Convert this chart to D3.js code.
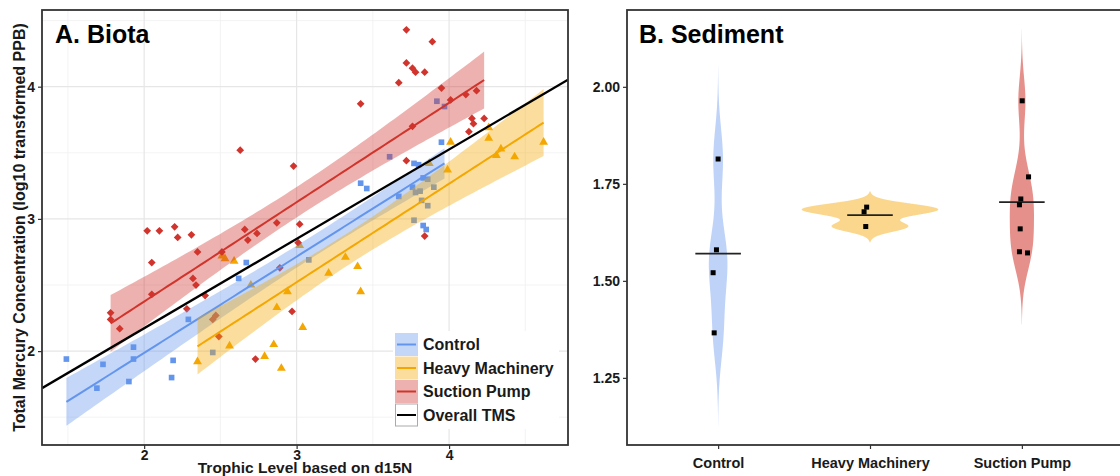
<!DOCTYPE html>
<html><head><meta charset="utf-8">
<script src="https://cdn.jsdelivr.net/npm/d3@7"></script>
<style>
body{margin:0;background:#fff;}
svg{display:block;font-family:"Liberation Sans",Arial,Helvetica,sans-serif;}
</style>
</head><body>
<svg id="c" width="1120" height="476"></svg>
<script>
// ---------------- DATA ----------------
const groups = ["Control", "Heavy Machinery", "Suction Pump"];
const groupColors = ["#6495ED", "#F4A700", "#D0342C"];

// Panel A: trophic level (x) vs log10 total mercury (y)
const ctrlTL = [1.49,1.69,1.73,1.90,1.93,1.93,2.18,2.19,2.29,2.45,2.62,2.67,3.08,3.61,3.92,3.97,3.42,3.46,3.67,3.76,3.77,3.80,3.83,3.86,3.78,3.81,3.82,3.90,3.86,3.77,3.83,3.85,3.95];
const ctrlHg = [1.94,1.72,1.90,1.77,1.94,2.03,1.80,1.93,2.24,1.99,2.55,2.67,2.69,3.47,3.89,3.85,3.27,3.23,3.17,3.24,3.42,3.41,3.31,3.30,3.20,3.21,3.14,3.24,3.10,2.99,2.95,2.92,3.58];

const heavyTL = [2.35,2.51,2.53,2.59,2.56,2.70,2.79,2.85,2.87,2.90,2.94,3.02,3.04,3.21,3.32,3.40,3.42,3.87,3.99,4.01,4.26,4.26,4.31,4.34,4.43,4.62];
const heavyHg = [1.92,2.72,2.70,2.68,2.04,2.50,1.96,2.05,2.33,1.87,2.45,2.80,2.18,2.59,2.71,2.64,2.45,3.42,3.37,3.58,3.69,3.61,3.48,3.53,3.47,3.58];

const suctTL = [1.78,1.78,1.84,2.02,2.10,2.05,2.05,2.20,2.22,2.28,2.31,2.32,2.34,2.35,2.40,2.45,2.47,2.49,2.51,2.63,2.66,2.68,2.74,2.73,2.87,2.89,2.97,2.98,3.02,3.01,3.42,3.67,3.72,3.72,3.76,3.78,3.84,3.89,3.76,3.72,3.84,3.95,4.01,4.11,4.18,4.15,4.16,4.13,4.23];
const suctHg = [2.29,2.24,2.17,2.91,2.91,2.43,2.67,2.94,2.86,2.32,2.88,2.55,2.50,2.75,2.42,2.24,2.27,2.11,2.75,3.52,2.92,2.84,2.89,1.94,2.97,2.63,2.30,3.40,2.96,2.82,3.87,4.03,4.43,4.18,4.14,4.11,4.11,4.34,3.70,3.44,2.87,3.99,3.90,3.94,3.97,3.76,3.72,3.66,3.76];

// Overall trophic magnification slope line
const tmsIntercept = 0.821;
const tmsSlope = 0.676;

const biotaXTicks = [2, 3, 4];
const biotaYTicks = [2, 3, 4];
const biotaXMinor = [1.5, 2.5, 3.5, 4.5];
const biotaYMinor = [1.5, 2.5, 3.5, 4.5];
const legendLabels = ["Control", "Heavy Machinery", "Suction Pump", "Overall TMS"];

// Panel B: sediment
const sedCats = ["Control", "Heavy Machinery", "Suction Pump"];
const sedControl = [1.814, 1.580, 1.521, 1.366];
const sedControlJit = [0.000, -0.011, -0.033, -0.026];
const sedHeavy = [1.690, 1.678, 1.640];
const sedHeavyJit = [-0.022, -0.039, -0.028];
const sedSuction = [1.964, 1.768, 1.711, 1.696, 1.634, 1.575, 1.572];
const sedSuctionJit = [0.002, 0.044, -0.007, -0.016, -0.011, -0.016, 0.037];
const sedYTicks = [1.25, 1.50, 1.75, 2.00];

// ---------------- HELPERS ----------------
function tq975(df) {
  const z = 1.959964;
  return z + (z*z*z + z) / (4*df) + (5*Math.pow(z,5) + 16*z*z*z + 3*z) / (96*df*df);
}
function lmFit(xs, ys) {
  const n = xs.length, mx = d3.mean(xs), my = d3.mean(ys);
  let sxx = 0, sxy = 0;
  for (let i = 0; i < n; i++) { sxx += (xs[i]-mx)**2; sxy += (xs[i]-mx)*(ys[i]-my); }
  const b = sxy / sxx, a = my - b*mx;
  let sse = 0;
  for (let i = 0; i < n; i++) sse += (ys[i] - a - b*xs[i])**2;
  const s2 = sse / (n-2), t = tq975(n-2);
  const [lo, hi] = d3.extent(xs);
  return d3.range(80).map(k => {
    const x = lo + (hi-lo)*k/79;
    const f = a + b*x;
    const se = Math.sqrt(s2*(1/n + (x-mx)**2/sxx));
    return {x, f, lo: f - t*se, hi: f + t*se};
  });
}
function nrd0(v) {
  const s = [...v].sort(d3.ascending);
  const sd = d3.deviation(s);
  const iqr = d3.quantile(s, 0.75) - d3.quantile(s, 0.25);
  const lo = Math.min(sd, iqr/1.34);
  return 0.9 * lo * Math.pow(s.length, -0.2);
}
function kde(v) {
  const bw = nrd0(v);
  const [mn, mx] = d3.extent(v);
  const from = mn - 3*bw, to = mx + 3*bw;
  return d3.range(512).map(k => {
    const y = from + (to-from)*k/511;
    const d = d3.sum(v, vi => Math.exp(-0.5*((y-vi)/bw)**2)) / (v.length*bw*Math.sqrt(2*Math.PI));
    return {y, d};
  });
}

const svg = d3.select("#c");
const FONT_COL = "#1a1a1a";

// ---------------- PANEL A ----------------
const A = {l: 42, r: 568, t: 10, b: 445};
const xA = d3.scaleLinear().domain([1.33, 4.78]).range([A.l, A.r]);
const yA = d3.scaleLinear().domain([1.29, 4.58]).range([A.b, A.t]);

svg.append("clipPath").attr("id", "clipA").append("rect")
  .attr("x", A.l).attr("y", A.t).attr("width", A.r-A.l).attr("height", A.b-A.t);

const gA = svg.append("g");
const grid = gA.append("g");
grid.selectAll(".vm").data(biotaXMinor).join("line")
  .attr("x1", d => xA(d)).attr("x2", d => xA(d)).attr("y1", A.t).attr("y2", A.b)
  .attr("stroke", "#F0F0F0").attr("stroke-width", 0.8);
grid.selectAll(".hm").data(biotaYMinor).join("line")
  .attr("y1", d => yA(d)).attr("y2", d => yA(d)).attr("x1", A.l).attr("x2", A.r)
  .attr("stroke", "#F0F0F0").attr("stroke-width", 0.8);
grid.selectAll(".vM").data(biotaXTicks).join("line")
  .attr("x1", d => xA(d)).attr("x2", d => xA(d)).attr("y1", A.t).attr("y2", A.b)
  .attr("stroke", "#E6E6E6").attr("stroke-width", 1.2);
grid.selectAll(".hM").data(biotaYTicks).join("line")
  .attr("y1", d => yA(d)).attr("y2", d => yA(d)).attr("x1", A.l).attr("x2", A.r)
  .attr("stroke", "#E6E6E6").attr("stroke-width", 1.2);

const plotA = gA.append("g").attr("clip-path", "url(#clipA)");

const series = [
  {x: ctrlTL, y: ctrlHg, sym: "square"},
  {x: heavyTL, y: heavyHg, sym: "triangle"},
  {x: suctTL, y: suctHg, sym: "diamond"}
];
const symGen = {
  square: d3.symbol().type(d3.symbolSquare).size(32),
  triangle: d3.symbol().type(d3.symbolTriangle).size(34),
  diamond: d3.symbol().type(d3.symbolSquare).size(30)
};
series.forEach((s, gi) => {
  plotA.append("g").selectAll("path").data(s.x.map((x, i) => [x, s.y[i]])).join("path")
    .attr("d", symGen[s.sym]())
    .attr("transform", d => `translate(${xA(d[0])},${yA(d[1])})` + (s.sym === "diamond" ? " rotate(45)" : ""))
    .attr("fill", groupColors[gi]);
});
series.forEach((s, gi) => {
  const fit = lmFit(s.x, s.y);
  plotA.append("path").datum(fit)
    .attr("d", d3.area().x(d => xA(d.x)).y0(d => yA(d.lo)).y1(d => yA(d.hi)))
    .attr("fill", groupColors[gi]).attr("fill-opacity", 0.38);
  plotA.append("path").datum(fit)
    .attr("d", d3.line().x(d => xA(d.x)).y(d => yA(d.f)))
    .attr("fill", "none").attr("stroke", groupColors[gi]).attr("stroke-width", 2);
});
const tmsX = xA.domain();
plotA.append("line")
  .attr("x1", xA(tmsX[0])).attr("y1", yA(tmsIntercept + tmsSlope*tmsX[0]))
  .attr("x2", xA(tmsX[1])).attr("y2", yA(tmsIntercept + tmsSlope*tmsX[1]))
  .attr("stroke", "#000").attr("stroke-width", 2.3);

// axes A
const axAx = gA.append("g").attr("transform", `translate(0,${A.b})`)
  .call(d3.axisBottom(xA).tickValues(biotaXTicks).tickSize(4).tickPadding(1).tickFormat(d3.format("d")));
const axAy = gA.append("g").attr("transform", `translate(${A.l},0)`)
  .call(d3.axisLeft(yA).tickValues(biotaYTicks).tickSize(4).tickPadding(3).tickFormat(d3.format("d")));
[axAx, axAy].forEach(ax => {
  ax.select(".domain").remove();
  ax.selectAll("line").attr("stroke", "#333").attr("stroke-width", 1.2);
  ax.selectAll("text").attr("fill", FONT_COL).style("font-size", "14px").style("font-weight", "bold")
    .style("font-family", '"Liberation Sans",Arial,sans-serif');
});
gA.append("rect").attr("x", A.l).attr("y", A.t).attr("width", A.r-A.l).attr("height", A.b-A.t)
  .attr("fill", "none").attr("stroke", "#333").attr("stroke-width", 1.8);

gA.append("text").attr("x", 55).attr("y", 43).text("A. Biota")
  .style("font-size", "25px").style("font-weight", "bold").attr("fill", "#000");
gA.append("text").attr("transform", `translate(25,${(A.t+A.b)/2}) rotate(-90)`)
  .attr("text-anchor", "middle").text("Total Mercury Concentration (log10 transformed PPB)")
  .style("font-size", "16px").style("font-weight", "bold").attr("fill", FONT_COL);
gA.append("text").attr("x", (A.l+A.r)/2).attr("y", 472.5).attr("text-anchor", "middle")
  .text("Trophic Level based on d15N")
  .style("font-size", "15.5px").style("font-weight", "bold").attr("fill", FONT_COL);

// legend
const leg = gA.append("g").attr("transform", "translate(393,331)");
leg.append("rect").attr("x", 0).attr("y", 0).attr("width", 166).attr("height", 98).attr("fill", "#fff");
legendLabels.forEach((lab, i) => {
  const gy = 2 + i*23.5;
  const row = leg.append("g").attr("transform", `translate(2,${gy})`);
  if (i < 3) {
    row.append("rect").attr("width", 23).attr("height", 23).attr("fill", groupColors[i]).attr("fill-opacity", 0.38);
    row.append("line").attr("x1", 2).attr("x2", 21).attr("y1", 11.5).attr("y2", 11.5)
      .attr("stroke", groupColors[i]).attr("stroke-width", 2);
  } else {
    row.append("rect").attr("x", 0.5).attr("y", 0.5).attr("width", 22).attr("height", 22)
      .attr("fill", "#fff").attr("stroke", "#aaa").attr("stroke-width", 1);
    row.append("line").attr("x1", 2).attr("x2", 21).attr("y1", 11.5).attr("y2", 11.5)
      .attr("stroke", "#000").attr("stroke-width", 2);
  }
  row.append("text").attr("x", 28).attr("y", 11.5).attr("dy", "0.36em").text(lab)
    .style("font-size", "16px").style("font-weight", "bold").attr("fill", FONT_COL);
});

// ---------------- PANEL B ----------------
const B = {l: 627, r: 1113, t: 10, b: 445};
const xB = d3.scalePoint().domain(sedCats).range([B.l, B.r]).padding(0.6);
const stepB = xB.step();
const yB = d3.scaleLinear().domain([1.077, 2.198]).range([B.b, B.t]);
const gB = svg.append("g");

const sedSets = [
  {v: sedControl, j: sedControlJit, op: 0.42},
  {v: sedHeavy, j: sedHeavyJit, op: 0.45},
  {v: sedSuction, j: sedSuctionJit, op: 0.55}
];
const dens = sedSets.map(s => kde(s.v));
const maxD = d3.max(dens, d => d3.max(d, p => p.d));
sedSets.forEach((s, gi) => {
  const cx = xB(sedCats[gi]);
  const hw = p => p.d / maxD * 0.45 * stepB;
  gB.append("path").datum(dens[gi])
    .attr("d", d3.area().y(p => yB(p.y)).x0(p => cx - hw(p)).x1(p => cx + hw(p)))
    .attr("fill", groupColors[gi]).attr("fill-opacity", s.op);
  const m = d3.mean(s.v);
  gB.append("line").attr("x1", cx - 0.15*stepB).attr("x2", cx + 0.15*stepB)
    .attr("y1", yB(m)).attr("y2", yB(m)).attr("stroke", "#222").attr("stroke-width", 1.6);
  gB.append("g").selectAll("rect").data(s.v.map((v, i) => [v, s.j[i]])).join("rect")
    .attr("x", d => cx + d[1]*stepB - 2.5).attr("y", d => yB(d[0]) - 2.5)
    .attr("width", 5).attr("height", 5).attr("fill", "#000");
});

const axBx = gB.append("g").attr("transform", `translate(0,${B.b})`)
  .call(d3.axisBottom(xB).tickSize(4).tickPadding(9));
const axBy = gB.append("g").attr("transform", `translate(${B.l},0)`)
  .call(d3.axisLeft(yB).tickValues(sedYTicks).tickSize(4).tickPadding(3).tickFormat(d3.format(".2f")));
[axBx, axBy].forEach(ax => {
  ax.select(".domain").remove();
  ax.selectAll("line").attr("stroke", "#333").attr("stroke-width", 1.2);
  ax.selectAll("text").attr("fill", FONT_COL).style("font-weight", "bold")
    .style("font-family", '"Liberation Sans",Arial,sans-serif');
});
axBx.selectAll("text").style("font-size", "14.5px");
axBy.selectAll("text").style("font-size", "14px");
gB.append("rect").attr("x", B.l).attr("y", B.t).attr("width", 510).attr("height", B.b-B.t)
  .attr("fill", "none").attr("stroke", "#333").attr("stroke-width", 1.8);
gB.append("text").attr("x", 639).attr("y", 43).text("B. Sediment")
  .style("font-size", "25px").style("font-weight", "bold").attr("fill", "#000");
</script>
</body></html>
